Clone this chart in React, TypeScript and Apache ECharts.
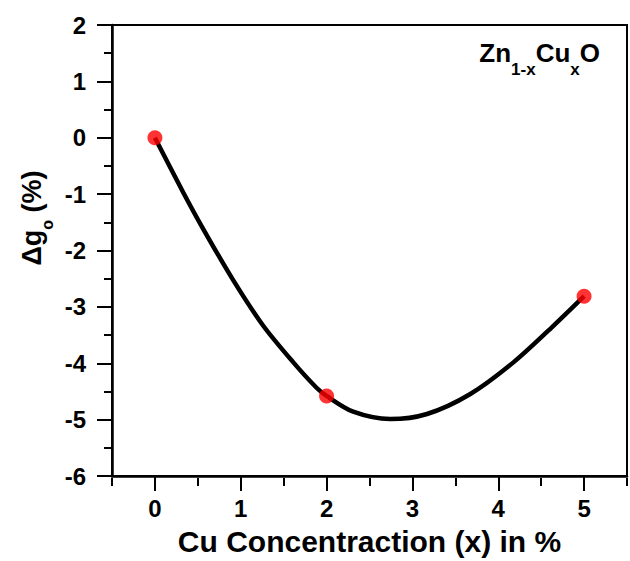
import React, { useEffect, useRef } from "react";
import * as echarts from "echarts";

// Measured Δg_o at each Cu concentration
const concentration = [0, 2, 5];
const deltaG = [0, -4.58, -2.81];

// Points along the drawn guide curve
const curveX = [0, 0.33, 0.56, 0.91, 1.26, 1.61, 1.88, 2.0, 2.31, 2.74, 3.17, 3.67, 4.18, 4.64, 5.0];
const curveY = [0, -0.97, -1.61, -2.52, -3.33, -3.98, -4.43, -4.58, -4.86, -4.99, -4.9, -4.55, -3.98, -3.34, -2.81];

// Axis ticks
const xMajorTicks = [0, 1, 2, 3, 4, 5];
const xMinorTicks = [-0.5, 0.5, 1.5, 2.5, 3.5, 4.5, 5.5];

const FONT = "'Liberation Sans', Arial, sans-serif";

export default function App() {
  const ref = useRef<HTMLDivElement>(null);

  useEffect(() => {
    if (!ref.current) return;
    const chart = echarts.init(ref.current, null, { renderer: "svg" });

    const gridRect = { left: 112, right: 3, top: 25, bottom: 83 };

    const mainRich = {
      a: { fontSize: 26, fontWeight: "bold", fontFamily: FONT, lineHeight: 30, verticalAlign: "top", color: "#000" },
      s: { fontSize: 17, fontWeight: "bold", fontFamily: FONT, lineHeight: 17, verticalAlign: "top", padding: [21, 0, 0, 0], color: "#000" },
    };
    const yTitleRich = {
      a: { fontSize: 27, fontWeight: "bold", fontFamily: FONT, lineHeight: 30, verticalAlign: "top", color: "#000" },
      s: { fontSize: 16, fontWeight: "bold", fontFamily: FONT, lineHeight: 16, verticalAlign: "top", padding: [21, 0, 0, 0], color: "#000" },
    };

    chart.setOption({
      animation: false,
      backgroundColor: "#fff",
      grid: [
        { ...gridRect, show: true, borderColor: "#000", borderWidth: 2, backgroundColor: "transparent" },
        { ...gridRect, show: false },
      ],
      xAxis: [
        {
          type: "value",
          gridIndex: 0,
          min: -0.5,
          max: 5.5,
          splitLine: { show: false },
          axisLine: { show: true, onZero: false, lineStyle: { color: "#000", width: 2.5 } },
          axisTick: { show: true, customValues: xMajorTicks, length: 15, lineStyle: { color: "#000", width: 2 } },
          axisLabel: {
            customValues: xMajorTicks,
            margin: 20,
            color: "#000",
            fontSize: 24,
            fontWeight: "bold",
            fontFamily: FONT,
          },
          name: "Cu Concentraction (x) in %",
          nameLocation: "middle",
          nameGap: 50,
          nameTextStyle: { color: "#000", fontSize: 30, fontWeight: "bold", fontFamily: FONT },
        },
        {
          type: "value",
          gridIndex: 1,
          min: -0.5,
          max: 5.5,
          splitLine: { show: false },
          axisLine: { show: false, onZero: false },
          axisTick: { show: true, customValues: xMinorTicks, length: 8, lineStyle: { color: "#000", width: 2 } },
          axisLabel: { show: false },
        },
      ],
      yAxis: [
        {
          type: "value",
          gridIndex: 0,
          min: -6,
          max: 2,
          interval: 1,
          splitLine: { show: false },
          axisLine: { show: true, onZero: false, lineStyle: { color: "#000", width: 2.5 } },
          axisTick: { show: true, length: 15, lineStyle: { color: "#000", width: 2 } },
          minorTick: { show: true, splitNumber: 2, length: 8, lineStyle: { color: "#000", width: 2 } },
          axisLabel: { margin: 26, color: "#000", fontSize: 24, fontWeight: "bold", fontFamily: FONT },
        },
        {
          type: "value",
          gridIndex: 1,
          min: -6,
          max: 2,
          show: false,
        },
      ],
      graphic: [
        {
          type: "text",
          x: 600,
          y: 40,
          style: {
            text: "{a|Zn}{s|1-x}{a|Cu}{s|x}{a|O}",
            align: "right",
            verticalAlign: "top",
            rich: mainRich,
          },
        },
        {
          type: "text",
          x: 18,
          y: 218,
          rotation: Math.PI / 2,
          style: {
            text: "{a|Δg}{s|o}{a| (%)}",
            align: "center",
            verticalAlign: "top",
            rich: yTitleRich,
          },
        },
      ],
      series: [
        {
          type: "line",
          xAxisIndex: 0,
          yAxisIndex: 0,
          data: curveX.map((x, i) => [x, curveY[i]]),
          smooth: 0.3,
          showSymbol: false,
          symbol: "none",
          lineStyle: { color: "#000", width: 4.5 },
          z: 2,
        },
        {
          type: "scatter",
          xAxisIndex: 0,
          yAxisIndex: 0,
          data: concentration.map((x, i) => [x, deltaG[i]]),
          symbol: "circle",
          symbolSize: 15,
          itemStyle: { color: "#ff0000" },
          z: 3,
        },
      ],
    });

    return () => chart.dispose();
  }, []);

  return (
    <div
      ref={ref}
      style={{ position: "fixed", left: 0, top: 0, width: 630, height: 561, background: "#fff" }}
    />
  );
}
